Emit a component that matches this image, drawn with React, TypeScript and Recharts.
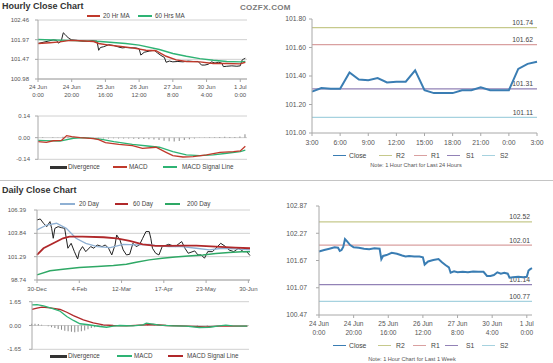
import React from 'react'
import { ComposedChart, Line, Bar, XAxis, YAxis, CartesianGrid, ReferenceLine } from 'recharts'

const FONT = '"Liberation Sans", Arial, Helvetica, sans-serif'
const TXT = '#555'
const AXIS = '#a8a8a8'
const GRID = '#d0d0d0'

// ---- hourly week data (x = trading hour since 24 Jun 0:00) ----
const weekTicks = [0, 20, 40, 60, 80, 100, 120]
const weekTickLabels = ['24 Jun|0:00', '24 Jun|20:00', '25 Jun|16:00', '26 Jun|12:00', '27 Jun|8:00', '30 Jun|4:00', '1 Jul|0:00']

const closeHour = [0, 3, 6, 9, 11, 12, 13, 14, 15, 16, 18, 20, 23, 26, 29, 32, 35, 36, 37, 39, 42, 45, 48, 50, 52, 55, 58, 60, 61, 63, 66, 69, 71, 73, 75, 76, 78, 80, 83, 86, 89, 92, 95, 97, 99, 101, 103, 105, 107, 109, 110, 112, 115, 118, 120, 121, 122, 123]
const closeValue = [101.87, 101.9, 101.93, 101.96, 101.95, 101.88, 101.9, 101.97, 102.14, 102.1, 102.01, 101.96, 101.95, 101.93, 101.92, 101.94, 101.93, 101.7, 101.77, 101.79, 101.84, 101.82, 101.78, 101.76, 101.77, 101.76, 101.76, 101.74, 101.58, 101.65, 101.68, 101.7, 101.63, 101.57, 101.52, 101.4, 101.43, 101.41, 101.42, 101.41, 101.43, 101.42, 101.42, 101.33, 101.33, 101.35, 101.41, 101.38, 101.4, 101.38, 101.29, 101.3, 101.31, 101.3, 101.31, 101.45, 101.48, 101.5]

const ma20Hour = [0, 7, 13, 19, 25, 33, 36, 42, 48, 56, 64, 70, 76, 82, 88, 96, 104, 112, 120, 123]
const ma20Value = [101.87, 101.89, 101.91, 101.95, 101.94, 101.92, 101.87, 101.83, 101.8, 101.76, 101.7, 101.69, 101.55, 101.46, 101.42, 101.41, 101.37, 101.37, 101.36, 101.4]

const ma60Hour = [0, 17, 37, 52, 60, 72, 80, 88, 96, 104, 112, 120, 123]
const ma60Value = [101.97, 101.95, 101.92, 101.87, 101.83, 101.72, 101.62, 101.55, 101.49, 101.45, 101.42, 101.41, 101.42]

const macdHour = [0, 5, 9, 14, 17, 20, 25, 33, 36, 40, 48, 56, 62, 70, 76, 80, 86, 92, 100, 108, 116, 120, 123]
const macdValue = [-0.026, -0.03, -0.02, -0.017, 0.013, 0.006, 0, -0.006, -0.013, -0.032, -0.043, -0.052, -0.069, -0.062, -0.095, -0.116, -0.125, -0.123, -0.112, -0.095, -0.09, -0.086, -0.055]

const signalHour = [0, 13, 21, 27, 37, 45, 56, 65, 72, 80, 88, 96, 104, 112, 120, 123]
const signalValue = [-0.017, -0.022, -0.004, 0, -0.009, -0.026, -0.043, -0.054, -0.062, -0.09, -0.112, -0.116, -0.112, -0.101, -0.09, -0.08]

const divHour = [0, 3, 6, 9, 12, 15, 18, 21, 24, 27, 30, 33, 36, 39, 42, 45, 48, 51, 54, 57, 60, 63, 66, 69, 72, 75, 78, 81, 84, 87, 90, 93, 96, 99, 102, 105, 108, 111, 114, 117, 120, 123]
const divValue = [0, 0.002, 0, 0.002, -0.002, 0.006, 0.005, 0.003, 0.001, -0.002, -0.004, -0.005, -0.006, -0.006, -0.005, -0.004, -0.005, -0.006, -0.006, -0.007, -0.008, -0.008, -0.01, -0.012, -0.016, -0.02, -0.024, -0.025, -0.022, -0.016, -0.01, -0.005, -0.002, 0.001, 0.002, 0.003, 0.005, 0.006, 0.005, 0.005, 0.008, 0.022]

// ---- last 24 hours ----
const dayTicks = [0, 3, 6, 9, 12, 15, 18, 21, 24]
const dayTickLabels = ['3:00', '6:00', '9:00', '12:00', '15:00', '18:00', '21:00', '0:00', '3:00']
const dayClose = [101.29, 101.315, 101.31, 101.31, 101.425, 101.375, 101.37, 101.385, 101.355, 101.36, 101.36, 101.44, 101.3, 101.28, 101.28, 101.28, 101.3, 101.3, 101.32, 101.3, 101.3, 101.3, 101.45, 101.485, 101.5]
const dayLevels = [101.74, 101.62, 101.31, 101.11]
const weekLevels = [102.52, 102.01, 101.14, 100.77]
const levelColors = ['#c6c98c', '#d9a0a0', '#9282b6', '#a6d2df']
const levelNames = ['R2', 'R1', 'S1', 'S2']

// ---- daily data (x = trading day since 30 Dec) ----
const dailyTicks = [0, 26, 52, 78, 104, 130]
const dailyTickLabels = ['30-Dec', '4-Feb', '12-Mar', '17-Apr', '23-May', '30-Jun']

const dCloseDay = [0, 2, 4, 6, 8, 9, 10, 11, 13, 15, 17, 18, 19, 21, 23, 25, 26, 28, 30, 33, 35, 37, 40, 42, 44, 46, 48, 49, 51, 53, 55, 57, 59, 61, 63, 65, 67, 69, 70, 71, 73, 75, 77, 81, 85, 89, 91, 93, 97, 99, 101, 103, 105, 108, 111, 113, 116, 118, 121, 124, 127, 129, 131]
const dCloseValue = [105.3, 105.41, 104.94, 104.57, 105.12, 104.39, 103.3, 104.39, 104.57, 104.46, 104.39, 103.3, 102.21, 102.75, 101.84, 101.04, 101.84, 102.39, 101.84, 102.39, 102.21, 102.57, 102.39, 102.57, 102.21, 101.48, 102.57, 103.66, 103.12, 102.03, 101.48, 101.55, 102.75, 102.39, 102.57, 103.3, 104.03, 104.03, 103.3, 102.21, 101.66, 101.48, 102.39, 102.64, 102.39, 102.94, 102.21, 101.66, 101.92, 101.48, 101.48, 101.12, 101.84, 101.84, 102.39, 102.75, 102.39, 102.03, 101.84, 102.21, 101.84, 101.84, 101.41]

const d20Day = [0, 6, 12, 18, 24, 30, 37, 45, 53, 61, 69, 73, 81, 89, 98, 106, 114, 122, 131]
const d20Value = [104.21, 104.75, 104.94, 104.39, 103.3, 102.75, 102.39, 102.28, 102.64, 102.57, 102.64, 102.5, 102.39, 102.39, 102.21, 102.03, 102.21, 102.14, 102.03]
const d60Day = [0, 4, 10, 16, 20, 28, 41, 49, 57, 65, 73, 81, 89, 98, 110, 122, 131]
const d60Value = [101.48, 102.21, 102.75, 103.3, 103.48, 103.48, 103.41, 103.3, 103.01, 102.64, 102.46, 102.46, 102.5, 102.5, 102.39, 102.28, 102.21]
const d200Day = [0, 8, 16, 26, 37, 47, 55, 61, 69, 77, 85, 93, 102, 110, 118, 126, 131]
const d200Value = [99.3, 99.74, 99.92, 100.1, 100.21, 100.32, 100.46, 100.68, 100.94, 101.12, 101.26, 101.37, 101.48, 101.63, 101.74, 101.84, 101.84]

const dMacdDay = [0, 3, 7, 13, 17, 21, 25, 29, 33, 37, 41, 45, 49, 53, 61, 67, 69, 72, 77, 85, 93, 101, 107, 113, 117, 121, 130]
const dMacdValue = [1.43, 1.45, 1.36, 1.15, 0.99, 0.62, 0.35, 0.12, 0.07, 0, -0.07, -0.12, -0.05, 0, -0.02, 0.05, 0.16, 0.12, 0.02, -0.02, -0.05, -0.14, -0.12, -0.02, 0.02, -0.02, -0.05]
const dSignalDay = [0, 3, 6, 11, 17, 21, 25, 31, 37, 43, 49, 57, 65, 73, 81, 93, 105, 113, 130]
const dSignalValue = [1.11, 1.2, 1.27, 1.22, 1.11, 0.92, 0.69, 0.39, 0.18, 0.05, 0, -0.02, 0.02, 0.07, 0, -0.05, -0.09, -0.05, -0.05]
const dDivDay = [0, 2, 4, 6, 8, 10, 12, 14, 16, 18, 20, 22, 24, 26, 28, 30, 32, 34, 36, 38, 40, 42, 44, 46, 50, 60, 66, 70, 74, 80, 90, 100, 106, 112, 118, 124, 130]
const dDivValue = [0.12, 0.12, 0.1, 0.05, 0, -0.06, -0.12, -0.18, -0.24, -0.3, -0.36, -0.4, -0.44, -0.46, -0.44, -0.4, -0.34, -0.26, -0.18, -0.12, -0.08, -0.05, -0.03, -0.02, 0, -0.02, 0.03, 0.06, 0.04, 0.01, -0.02, -0.05, -0.03, 0.02, 0.02, 0, 0]

type Row = { x: number; [k: string]: number }

function table(cols: Record<string, [number[], number[]]>): Row[] {
  const byX = new Map<number, Row>()
  Object.entries(cols).forEach(([key, [xs, ys]]) => {
    xs.forEach((x, i) => {
      const row = byX.get(x) ?? { x }
      row[key] = ys[i]
      byX.set(x, row)
    })
  })
  return [...byX.values()].sort((a, b) => a.x - b.x)
}

const hourlyRows = table({ close: [closeHour, closeValue], ma20: [ma20Hour, ma20Value], ma60: [ma60Hour, ma60Value] })
const hourlyMacdRows = table({ macd: [macdHour, macdValue], signal: [signalHour, signalValue], div: [divHour, divValue] })
const weekRows = table({ close: [closeHour, closeValue] })
const dayRows = dayClose.map((v, i) => ({ x: i, close: v }))
const dailyRows = table({ close: [dCloseDay, dCloseValue], d20: [d20Day, d20Value], d60: [d60Day, d60Value], d200: [d200Day, d200Value] })
const dailyMacdRows = table({ macd: [dMacdDay, dMacdValue], signal: [dSignalDay, dSignalValue], div: [dDivDay, dDivValue] })

function twoLineTick(ticks: number[], labels: string[], size: number, first: number, gap: number) {
  return (props: any) => {
    const { x, y, payload } = props
    const [a, b] = (labels[ticks.indexOf(payload.value)] ?? '').split('|')
    return (
      <text x={x} y={y} textAnchor="middle" fontSize={size} fill={TXT} fontFamily={FONT}>
        <tspan x={x} dy={first}>{a}</tspan>
        {b && <tspan x={x} dy={gap}>{b}</tspan>}
      </text>
    )
  }
}

function levelLabel(text: string, size: number, inset: number) {
  return (props: any) => {
    const vb = props.viewBox
    return (
      <text x={vb.x + vb.width - inset} y={vb.y - 2.5} textAnchor="end" fontSize={size} fill="#444" fontFamily={FONT}>
        {text}
      </text>
    )
  }
}

function Key({ x, w, tx, cy, color, label, h = 1.2, size = 6.3 }: { x: number; w: number; tx: number; cy: number; color: string; label: string; h?: number; size?: number }) {
  return (
    <>
      <div style={{ position: 'absolute', left: x, top: cy - h / 2, width: w, height: h, background: color }} />
      <div style={{ position: 'absolute', left: tx, top: cy - size * 0.6, fontSize: size, lineHeight: `${size * 1.2}px`, color: '#444', whiteSpace: 'nowrap' }}>{label}</div>
    </>
  )
}

const tickSmall = { fontSize: 6, fill: TXT, fontFamily: FONT }
const tickBig = { fontSize: 6.8, fill: TXT, fontFamily: FONT }
const fix2 = (v: number) => v.toFixed(2)

function Abs({ left, top, children }: { left: number; top: number; children: React.ReactNode }) {
  return <div style={{ position: 'absolute', left, top }}>{children}</div>
}

export default function App() {
  return (
    <div style={{ position: 'absolute', left: 0, top: 0, width: 553, height: 363, background: '#fff', fontFamily: FONT, overflow: 'hidden' }}>
      <div style={{ position: 'absolute', left: 2, top: 1, fontSize: 9, fontWeight: 'bold', color: '#333' }}>Hourly Close Chart</div>
      <div style={{ position: 'absolute', left: 240, top: 3, fontSize: 8, fontWeight: 'bold', color: '#7a7a7a', letterSpacing: 0.3 }}>COZFX.COM</div>

      {/* hourly close with moving averages */}
      <Abs left={0} top={0}>
        <ComposedChart width={262} height={104} data={hourlyRows} margin={{ top: 20, right: 15, bottom: 0, left: 0 }}>
          <CartesianGrid vertical={false} stroke={GRID} />
          <XAxis type="number" dataKey="x" domain={[0, 124]} ticks={weekTicks} interval={0} height={25} stroke={AXIS} tickSize={3}
            tick={twoLineTick(weekTicks, weekTickLabels, 6, 5, 8)} />
          <YAxis type="number" domain={[100.98, 102.46]} ticks={[100.98, 101.4733, 101.9667, 102.46]} interval={0} tickFormatter={fix2}
            width={38} stroke={AXIS} tickSize={3} tickMargin={6} tick={tickSmall} />
          <Line dataKey="close" stroke="#222" strokeWidth={1} dot={false} connectNulls isAnimationActive={false} />
          <Line dataKey="ma60" stroke="#2eb374" strokeWidth={1.4} dot={false} connectNulls isAnimationActive={false} />
          <Line dataKey="ma20" stroke="#c0392b" strokeWidth={1.4} dot={false} connectNulls isAnimationActive={false} />
        </ComposedChart>
      </Abs>
      <Key x={87} w={13} tx={103} cy={16} color="#c0392b" label="20 Hr MA" />
      <Key x={138} w={14} tx={155} cy={16} color="#2eb374" label="60 Hrs MA" />

      {/* hourly MACD */}
      <Abs left={0} top={100}>
        <ComposedChart width={250} height={70} data={hourlyMacdRows} margin={{ top: 16, right: 3, bottom: 10.7, left: 0 }}>
          <CartesianGrid vertical={false} stroke={GRID} />
          <XAxis type="number" dataKey="x" domain={[0, 124]} hide />
          <YAxis type="number" domain={[-0.14, 0.14]} ticks={[-0.14, 0, 0.14]} interval={0} tickFormatter={fix2}
            width={38} stroke={AXIS} tickSize={3} tickMargin={5} tick={tickSmall} />
          <Bar dataKey="div" fill="#8a8a8a" barSize={1} isAnimationActive={false} />
          <Line dataKey="signal" stroke="#2eb374" strokeWidth={1.3} dot={false} connectNulls isAnimationActive={false} />
          <Line dataKey="macd" stroke="#c0392b" strokeWidth={1.3} dot={false} connectNulls isAnimationActive={false} />
        </ComposedChart>
      </Abs>
      <Key x={50} w={17} tx={68} cy={167} color="#333" h={3} label="Divergence" />
      <Key x={113} w={14} tx={129} cy={167} color="#c0392b" label="MACD" />
      <Key x={163} w={14} tx={182} cy={167} color="#2eb374" label="MACD Signal Line" />

      <div style={{ position: 'absolute', left: 0, top: 179.5, width: 553, height: 1.5, background: '#c4c4c4' }} />

      {/* last 24 hours */}
      <Abs left={270} top={0}>
        <ComposedChart width={283} height={150} data={dayRows} margin={{ top: 19, right: 16, bottom: 0, left: 0 }}>
          <XAxis type="number" dataKey="x" domain={[0, 24]} ticks={dayTicks} interval={0} height={17} stroke={AXIS} tickSize={3} tickMargin={4}
            tickFormatter={(v: number) => dayTickLabels[dayTicks.indexOf(v)]} tick={tickBig} />
          <YAxis type="number" domain={[101.0, 101.8]} ticks={[101.0, 101.2, 101.4, 101.6, 101.8]} interval={0} tickFormatter={fix2}
            width={42} stroke={AXIS} tickSize={3} tickMargin={3} tick={tickBig} />
          {dayLevels.map((v, i) => (
            <ReferenceLine key={levelNames[i]} y={v} stroke={levelColors[i]} strokeWidth={1.2} label={levelLabel(fix2(v), 6.8, 4)} />
          ))}
          <Line dataKey="close" stroke="#3a7db3" strokeWidth={2} dot={false} isAnimationActive={false} />
        </ComposedChart>
      </Abs>
      <Key x={333} w={13} tx={349} cy={155.6} color="#3a7db3" h={1.6} label="Close" size={6.8} />
      {levelNames.map((n, i) => (
        <Key key={n} x={[379, 414, 447, 482][i]} w={13} tx={[396, 431, 466, 500][i]} cy={155.6} color={levelColors[i]} label={n} size={6.8} />
      ))}
      <div style={{ position: 'absolute', left: 360, width: 112, top: 161.5, textAlign: 'center', fontSize: 5.6, color: '#555', whiteSpace: 'nowrap' }}>
        Note: 1 Hour Chart for Last 24 Hours
      </div>

      <div style={{ position: 'absolute', left: 2, top: 185, fontSize: 9, fontWeight: 'bold', color: '#333' }}>Daily Close Chart</div>

      {/* daily close with moving averages */}
      <Abs left={0} top={185}>
        <ComposedChart width={265} height={112} data={dailyRows} margin={{ top: 25, right: 15, bottom: 0, left: 0 }}>
          <CartesianGrid vertical={false} stroke={GRID} />
          <XAxis type="number" dataKey="x" domain={[0, 131]} ticks={dailyTicks} interval={0} height={17} stroke={AXIS} tickSize={3} tickMargin={4}
            tickFormatter={(v: number) => dailyTickLabels[dailyTicks.indexOf(v)]} tick={tickSmall} />
          <YAxis type="number" domain={[98.74, 106.39]} ticks={[98.74, 101.29, 103.84, 106.39]} interval={0} tickFormatter={fix2}
            width={37} stroke={AXIS} tickSize={3} tickMargin={8} tick={tickSmall} />
          <Line dataKey="close" stroke="#222" strokeWidth={1} dot={false} connectNulls isAnimationActive={false} />
          <Line dataKey="d20" stroke="#8fb0d3" strokeWidth={1.3} dot={false} connectNulls isAnimationActive={false} />
          <Line dataKey="d200" stroke="#2ea865" strokeWidth={1.5} dot={false} connectNulls isAnimationActive={false} />
          <Line dataKey="d60" stroke="#b0282a" strokeWidth={1.8} dot={false} connectNulls isAnimationActive={false} />
        </ComposedChart>
      </Abs>
      <Key x={60} w={15} tx={79} cy={204} color="#8fb0d3" label="20 Day" />
      <Key x={115} w={13} tx={133} cy={204} color="#b0282a" label="60 Day" />
      <Key x={165} w={15} tx={187} cy={204} color="#2ea865" label="200 Day" />

      {/* daily MACD */}
      <Abs left={0} top={295}>
        <ComposedChart width={255} height={60} data={dailyMacdRows} margin={{ top: 6.7, right: 6, bottom: 5.7, left: 0 }}>
          <CartesianGrid vertical={false} stroke={GRID} />
          <XAxis type="number" dataKey="x" domain={[0, 131]} hide />
          <YAxis type="number" domain={[-1.65, 1.65]} ticks={[-1.65, 0, 1.65]} interval={0} tickFormatter={fix2}
            width={32} stroke={AXIS} tickSize={3} tickMargin={8} tick={tickSmall} />
          <Bar dataKey="div" fill="#8a8a8a" barSize={1} isAnimationActive={false} />
          <Line dataKey="signal" stroke="#b0282a" strokeWidth={1.3} dot={false} connectNulls isAnimationActive={false} />
          <Line dataKey="macd" stroke="#2eb374" strokeWidth={1.3} dot={false} connectNulls isAnimationActive={false} />
        </ComposedChart>
      </Abs>
      <Key x={50} w={17} tx={68} cy={356} color="#333" h={3} label="Divergence" />
      <Key x={117} w={15} tx={134} cy={356} color="#2eb374" label="MACD" />
      <Key x={168} w={15} tx={187} cy={356} color="#b0282a" label="MACD Signal Line" />

      {/* last week hourly */}
      <Abs left={270} top={190}>
        <ComposedChart width={280} height={150} data={weekRows} margin={{ top: 16, right: 18, bottom: 0, left: 0 }}>
          <XAxis type="number" dataKey="x" domain={[0, 123]} ticks={weekTicks} interval={0} height={25} stroke={AXIS} tickSize={3}
            tick={twoLineTick(weekTicks, weekTickLabels, 6.6, 6, 8.5)} />
          <YAxis type="number" domain={[100.47, 102.87]} ticks={[100.47, 101.07, 101.67, 102.27, 102.87]} interval={0} tickFormatter={fix2}
            width={49} stroke={AXIS} tickSize={3} tickMargin={9} tick={tickBig} />
          {weekLevels.map((v, i) => (
            <ReferenceLine key={levelNames[i]} y={v} stroke={levelColors[i]} strokeWidth={1.2} label={levelLabel(fix2(v), 6.8, 2)} />
          ))}
          <Line dataKey="close" stroke="#3a7db3" strokeWidth={2} dot={false} connectNulls isAnimationActive={false} />
        </ComposedChart>
      </Abs>
      <Key x={333} w={13} tx={349} cy={345.7} color="#3a7db3" h={1.6} label="Close" size={6.8} />
      {levelNames.map((n, i) => (
        <Key key={n} x={[378, 413, 445, 482][i]} w={13} tx={[396, 431, 466, 500][i]} cy={345.7} color={levelColors[i]} label={n} size={6.8} />
      ))}
      <div style={{ position: 'absolute', left: 356, width: 112, top: 355.5, textAlign: 'center', fontSize: 5.6, color: '#555', whiteSpace: 'nowrap' }}>
        Note: 1 Hour Chart for Last 1 Week
      </div>
    </div>
  )
}
